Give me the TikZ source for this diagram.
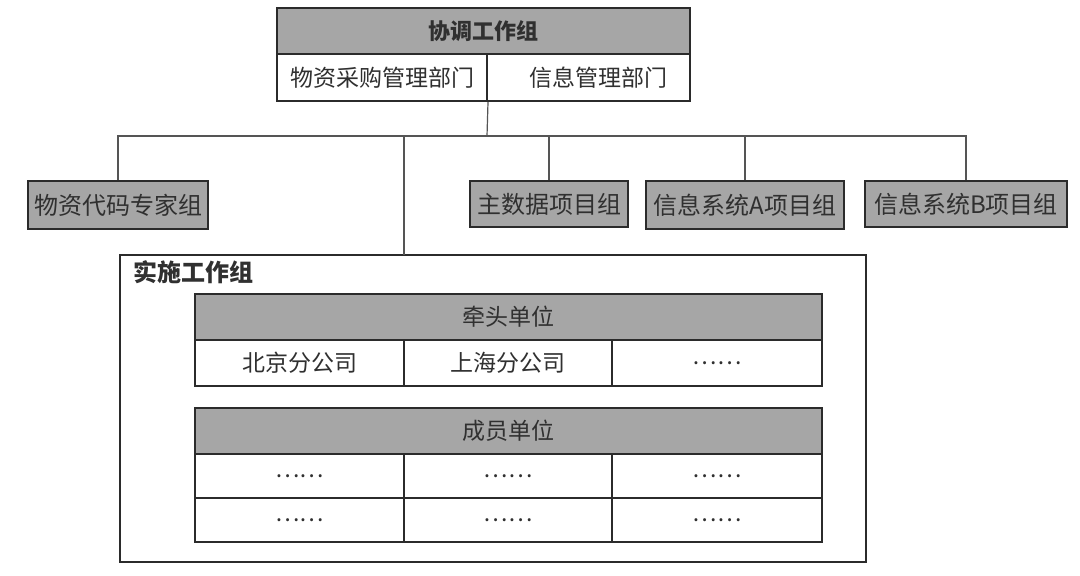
\documentclass[tikz,border=0pt]{standalone}
\usepackage{fontspec}
\setmainfont{Noto Sans CJK SC}
\definecolor{hdgray}{HTML}{A6A6A6}
\definecolor{edge}{HTML}{2B2B2B}
\definecolor{ink}{HTML}{303030}
\begin{document}
\begin{tikzpicture}[x=0.5pt,y=-0.5pt,
    box/.style={draw=edge,line width=1pt,inner sep=0pt,text=ink,
      font=\fontsize{11.5}{14}\selectfont},
    head/.style={box,fill=hdgray},
    cell/.style={box,fill=white},
    link/.style={draw=edge!80,line width=0.6pt}]
        \useasboundingbox (0,0) rectangle (1080,575);

        % 协调工作组
        \node[head,minimum width=206.5pt,minimum height=23pt,
          font=\fontsize{11}{14}\selectfont\bfseries] (coord) at (483.5,31) {协调工作组};
        \node[cell,minimum width=105pt,minimum height=23.5pt] (buy) at (382,77.5) {物资采购管理部门};
        \node[cell,minimum width=101.5pt,minimum height=23.5pt] (info) at (588.5,77.5) {\hspace{10pt}信息管理部门};

        % 项目组
        \node[head,minimum width=90pt,minimum height=24pt,font=\fontsize{12}{14}\selectfont] (code) at (118,205) {物资代码专家组};
        \node[head,minimum width=79pt,minimum height=23pt,font=\fontsize{12}{14}\selectfont] (master) at (549,204) {主数据项目组};
        \node[head,minimum width=99pt,minimum height=24pt,font=\fontsize{12}{14}\selectfont] (sysa) at (745,205) {信息系统A项目组};
        \node[head,minimum width=101pt,minimum height=23pt,font=\fontsize{12}{14}\selectfont] (sysb) at (966,204) {信息系统B项目组};

        % 实施工作组
        \node[draw=edge,line width=1pt,minimum width=373pt,minimum height=153.5pt] (impl) at (493,408.5) {};
        \node[anchor=north west,inner sep=0pt,text=ink,
          font=\fontsize{12}{14}\selectfont\bfseries] (impltitle) at (133,260) {实施工作组};

        % 牵头单位
        \node[head,minimum width=313.5pt,minimum height=23pt] (lead) at (508.5,317) {牵头单位};
        \node[cell,minimum width=104.5pt,minimum height=23pt] (bj) at (299.5,363) {北京分公司};
        \node[cell,minimum width=104pt,minimum height=23pt] (sh) at (508,363) {上海分公司};
        \node[cell,minimum width=105pt,minimum height=23pt] (leadmore) at (717,363) {……};

        % 成员单位
        \node[head,minimum width=313.5pt,minimum height=23pt] (member) at (508.5,431) {成员单位};
        \foreach \r/\y in {1/476,2/520}
          \foreach \c/\x/\w in {1/299.5/104.5,2/508/104,3/717/105}
            \node[cell,minimum width=\w pt,minimum height=22pt] (m\r\c) at (\x,\y) {……};

        % 连线
        \coordinate (bus) at (487,136);
        \coordinate (tie) at (404,255);
        \draw[link] (buy.south east) -- (bus);
        \draw[link] (bus) -| (code.north);
        \draw[link] (bus) -| (tie);
        \draw[link] (bus) -| (master.north);
        \draw[link] (bus) -| (sysa.north);
        \draw[link] (bus) -| (sysb.north);
    \end{tikzpicture}
\end{document}
